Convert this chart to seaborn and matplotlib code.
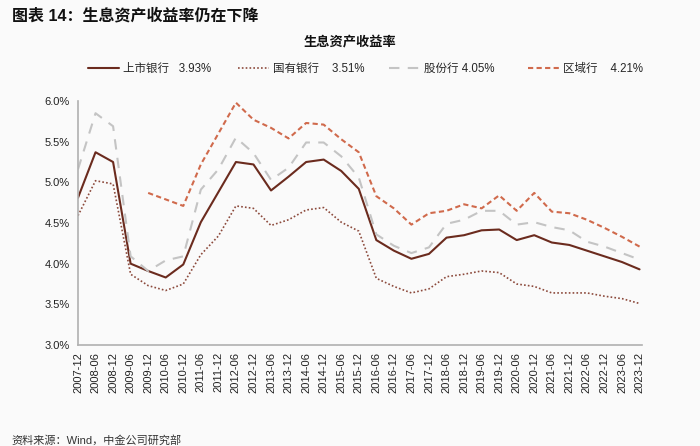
import matplotlib
matplotlib.use("Agg")
import matplotlib.pyplot as plt
import seaborn as sns
import numpy as np
import pandas as pd

periods = ["2007-12", "2008-06", "2008-12", "2009-06", "2009-12", "2010-06", "2010-12",
           "2011-06", "2011-12", "2012-06", "2012-12", "2013-06", "2013-12", "2014-06",
           "2014-12", "2015-06", "2015-12", "2016-06", "2016-12", "2017-06", "2017-12",
           "2018-06", "2018-12", "2019-06", "2019-12", "2020-06", "2020-12", "2021-06",
           "2021-12", "2022-06", "2022-12", "2023-06", "2023-12"]

listed = [4.81, 5.37, 5.25, 4.00, 3.91, 3.83, 3.99, 4.51, 4.88, 5.25, 5.22, 4.90, 5.07, 5.25,
          5.28, 5.14, 4.92, 4.29, 4.16, 4.06, 4.12, 4.32, 4.35, 4.41, 4.42, 4.29, 4.35, 4.26,
          4.23, 4.16, 4.09, 4.02, 3.93]
state = [4.59, 5.02, 4.98, 3.87, 3.73, 3.67, 3.75, 4.11, 4.34, 4.71, 4.68, 4.47, 4.54, 4.66,
         4.69, 4.51, 4.40, 3.82, 3.72, 3.64, 3.69, 3.84, 3.87, 3.91, 3.89, 3.75, 3.72, 3.64,
         3.64, 3.64, 3.60, 3.57, 3.51]
joint = [5.16, 5.85, 5.69, 4.09, 3.91, 4.04, 4.09, 4.91, 5.16, 5.55, 5.36, 5.03, 5.18, 5.49,
         5.49, 5.32, 5.06, 4.36, 4.22, 4.13, 4.20, 4.49, 4.54, 4.65, 4.65, 4.48, 4.51, 4.45,
         4.41, 4.27, 4.21, 4.13, 4.05]
regional = [np.nan, np.nan, np.nan, np.nan, 4.87, 4.79, 4.71, 5.22, 5.60, 5.98, 5.77, 5.67,
            5.54, 5.73, 5.71, 5.53, 5.37, 4.83, 4.68, 4.48, 4.62, 4.65, 4.73, 4.68, 4.84, 4.65,
            4.87, 4.64, 4.62, 4.54, 4.44, 4.33, 4.21]

series_names = ["上市银行", "国有银行", "股份行", "区域行"]
legend_labels = ["上市银行   3.93%", "国有银行    3.51%", "股份行 4.05%", "区域行    4.21%"]

sns.set_theme(style="white")
plt.rcParams['font.family'] = ['Liberation Sans', 'Noto Sans CJK SC', 'DejaVu Sans']
plt.rcParams['axes.unicode_minus'] = False

bg = "#FAFAFA"
fig = plt.figure(figsize=(7.0, 4.46), dpi=100, facecolor=bg)
ax = fig.add_axes([0.1114, 0.2265, 0.806, 0.547])
ax.set_facecolor(bg)

x = np.arange(len(periods))
styles = [
    dict(color="#6B2B1E", lw=1.5, ls="-"),
    dict(color="#8C4A3C", lw=1.2, ls=(0, (1, 1.3))),
    dict(color="#C4C4C4", lw=1.5, ls=(0, (5, 4))),
    dict(color="#D06A4C", lw=1.5, ls=(0, (2.5, 1.6))),
]
handles = []
for vals, name, lab, st in zip([listed, state, joint, regional], series_names, legend_labels, styles):
    df = pd.DataFrame({"x": x, "y": vals}).dropna()
    sns.lineplot(data=df, x="x", y="y", ax=ax, color=st["color"], linewidth=st["lw"],
                 linestyle=st["ls"], label=lab, legend=False, sort=False)
    handles.append(ax.get_lines()[-1])

ax.set_xlim(0, 32.15)
ax.set_ylim(3.0, 6.0)
ax.set_yticks(np.arange(3.0, 6.01, 0.5))
ax.set_yticklabels([f"{v:.1f}%" for v in np.arange(3.0, 6.01, 0.5)], fontsize=8)
ax.set_xticks(x)
ax.set_xticklabels(periods, rotation=90, fontsize=8.0)
ax.set_xlabel("")
ax.set_ylabel("")
for s in ["top", "right"]:
    ax.spines[s].set_visible(False)
for s in ["left", "bottom"]:
    ax.spines[s].set_color("#B0B0B0")
    ax.spines[s].set_linewidth(1.2)
ax.tick_params(axis="x", length=3, width=0.8, direction="out", pad=2, colors="#222222")
ax.tick_params(axis="y", length=0, pad=6, colors="#222222")
for t in ax.get_xticklines():
    t.set_color("#B0B0B0")

legend_x = [88, 238, 389, 528]
for h, lab, lx in zip(handles, legend_labels, legend_x):
    fig.legend([h], [lab], loc="center left", bbox_to_anchor=(lx / 700, 0.845),
               frameon=False, fontsize=8.3, handlelength=2.7, handletextpad=0.3,
               borderpad=0, borderaxespad=0)

fig.text(0.017, 0.965, "图表 14：生息资产收益率仍在下降", fontsize=11.5, fontweight="bold",
         ha="left", va="center", color="#111111")
fig.text(0.5, 0.903, "生息资产收益率", fontsize=9.5, fontweight="bold", ha="center", va="center",
         color="#111111")
fig.text(0.017, 0.013, "资料来源：Wind，中金公司研究部", fontsize=8.0, ha="left", va="center",
         color="#333333")

fig.savefig("out.png", dpi=100, facecolor=bg)
